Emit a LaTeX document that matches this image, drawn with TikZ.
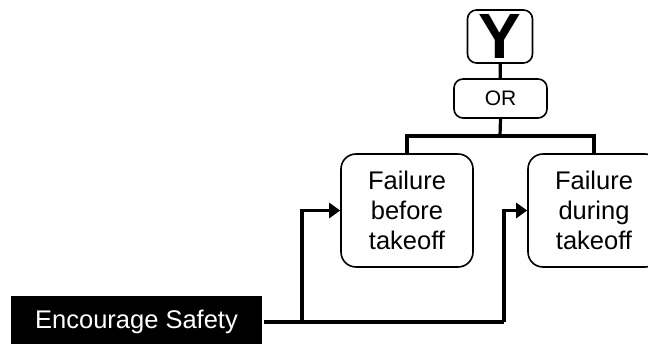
\documentclass[tikz,border=0pt]{standalone}
\usepackage{fontspec}
\setmainfont{Liberation Sans}
\usetikzlibrary{arrows.meta,positioning}

\begin{document}
\begin{tikzpicture}[x=1pt,y=-1pt,>={Triangle[length=11pt,width=15pt]},line width=3.2pt,
    gate node/.style={draw,rounded corners=9pt,line width=1.6pt,align=center,inner sep=0pt},
    event node/.style={gate node,rounded corners=15pt,minimum width=132pt,minimum height=113pt,text width=125pt,font=\fontsize{25.5}{30}\selectfont},
    source node/.style={fill=black,text=white,minimum width=251pt,minimum height=52pt,inner sep=0pt,font=\fontsize{25.5}{28}\selectfont}]

            \useasboundingbox (0,0) rectangle (648,344);

            \node[gate node, minimum width=65pt, minimum height=53pt, font=\fontsize{64}{64}\selectfont\bfseries] (Y) at (500,36.5) {Y};
            \node[gate node, minimum width=93pt, minimum height=39pt, font=\fontsize{21}{24}\selectfont] (OR) at (500.5,98.5) {OR};
            \node[event node] (before) at (407,210.5) {Failure\\before\\takeoff};
            \node[event node] (during) at (594,210.5) {Failure\\during\\takeoff};
            \node[source node] (safety) at (136.5,322) {Encourage Safety};

            \coordinate (bar) at (500,136);
            \coordinate (j1) at (302,322);
            \coordinate (j2) at (504,322);

            \draw (Y) -- (OR);
            \draw (OR.south) -- (bar);
            \draw (bar) -| (before.north);
            \draw (bar) -| (during.north);

            \draw (safety.east) -- (j2);
            \draw[->] (j1) |- (before.west);
            \draw[->] (j2) |- (during.west);

        \end{tikzpicture}
\end{document}
